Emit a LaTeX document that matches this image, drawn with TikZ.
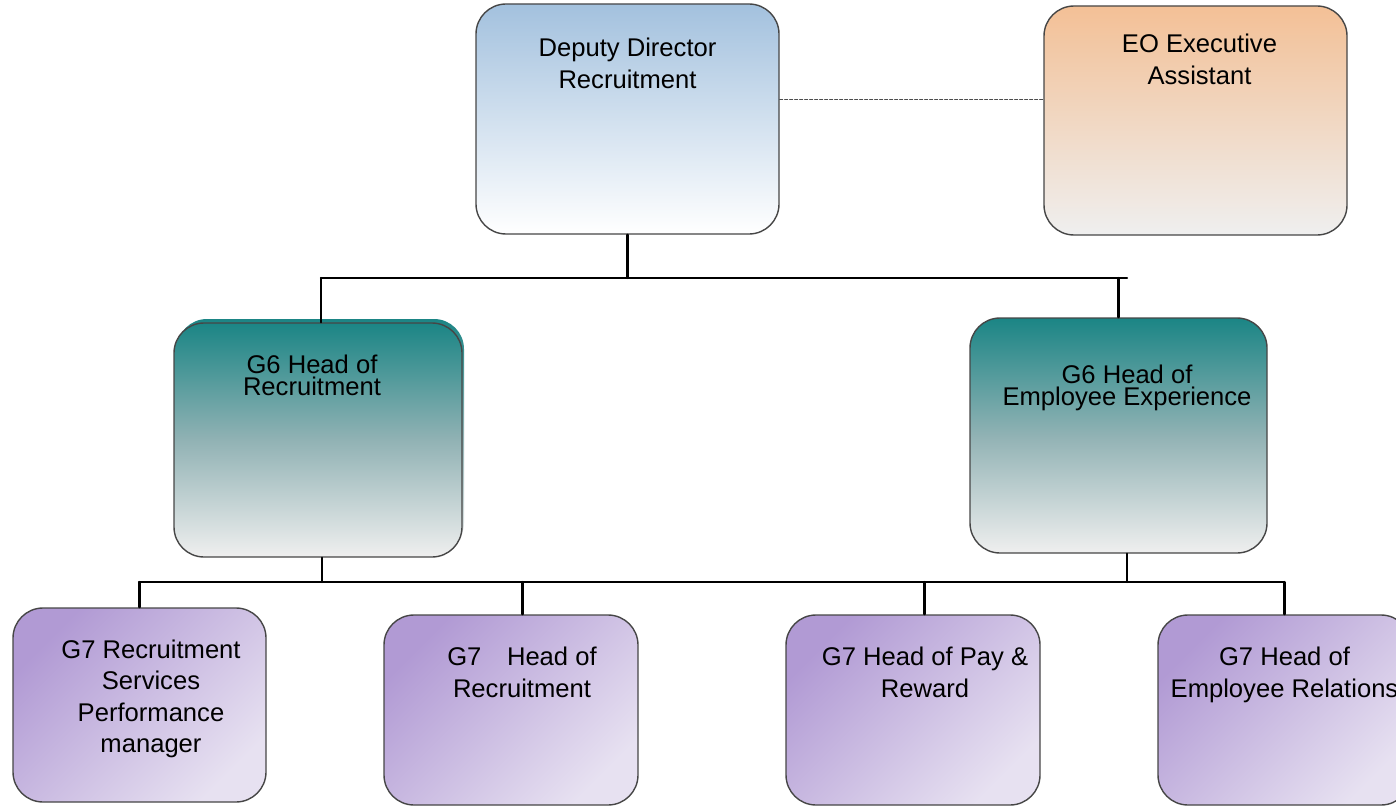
\documentclass[tikz,border=0pt]{standalone}
\usepackage{fontspec}
\setmainfont{Liberation Sans}

\definecolor{boxline}{RGB}{70,70,70}
\definecolor{ddtop}{RGB}{163,193,222}
\definecolor{eotop}{RGB}{243,192,150}
\definecolor{greyend}{RGB}{239,239,239}
\definecolor{g6top}{RGB}{27,133,133}
\definecolor{g6mid}{RGB}{145,178,180}
\definecolor{teamdark}{RGB}{177,154,212}
\definecolor{teamlight}{RGB}{231,225,241}

% box text: width, height, gap above, sideways shift, lines
\newcommand{\orgtext}[5]{\parbox[c][#2][t]{#1}{\centering
  \ifdim#4>0pt \leftskip=2\dimexpr#4\relax plus 1fil\else\rightskip=-2\dimexpr#4\relax plus 1fil\fi
  \vspace*{#3}#5}}

\begin{document}
\begin{tikzpicture}[line cap=round,line join=round,x=0.5pt,y=-0.5pt,
  box/.style={draw=boxline,line width=0.7pt,rounded corners=15pt,inner sep=0pt,font=\fontsize{12.8}{16}\selectfont},
  ddshade/.style={top color=ddtop,bottom color=white},
  eoshade/.style={top color=eotop,bottom color=greyend},
  headshade/.style={top color=g6top,bottom color=greyend,middle color=g6mid},
  teamshade/.style={top color=teamdark,bottom color=teamlight,shading angle=45},
  link/.style={line width=1.1pt,black},
  dashlink/.style={line width=0.5pt,black!70,dash pattern=on 1.5pt off 1pt}]
\useasboundingbox (0,0) rectangle (1396,808);
\clip (0,0) rectangle (1396,808);
% top row
\node[box,ddshade] (dd) at (627.5,119) {\orgtext{151.5pt}{115pt}{16.8pt}{0pt}{Deputy Director\\Recruitment}};
\node[box,eoshade] (eo) at (1195.5,120.5) {\orgtext{151.5pt}{114.5pt}{13.8pt}{2pt}{EO Executive\\Assistant}};
% heads
\path[headshade,rounded corners=15pt] (177,319) rectangle (464,553);
\node[box,headshade,font=\fontsize{12.8}{11}\selectfont] (hrec) at (318,440) {\orgtext{144pt}{117pt}{16pt}{-3pt}{G6 Head of\\Recruitment}};
\node[box,headshade,font=\fontsize{12.8}{10.75}\selectfont] (hexp) at (1118.5,435.5) {\orgtext{148.5pt}{117.5pt}{23.5pt}{4.25pt}{G6 Head of\\Employee Experience}};
% teams
\node[box,teamshade,font=\fontsize{12.8}{15.75}\selectfont] (rsp) at (139.5,705) {\orgtext{126.5pt}{97pt}{15.8pt}{5.75pt}{G7 Recruitment\\Services\\Performance\\manager}};
\node[box,teamshade] (hor) at (511,710) {\orgtext{127pt}{95pt}{15.8pt}{5.5pt}{G7\quad Head of\\Recruitment}};
\node[box,teamshade] (pay) at (913,710) {\orgtext{127pt}{95pt}{15.8pt}{6pt}{G7 Head of Pay \&\\Reward}};
\node[box,teamshade] (er) at (1284.5,710) {\orgtext{126.5pt}{95pt}{15.8pt}{0pt}{G7 Head of\\Employee Relations}};
% connectors
\coordinate (topbus-l) at (321,278);
\coordinate (topbus-r) at (1127,278);
\coordinate (lowbus-l) at (139,582);
\coordinate (lowbus-r) at (1284,582);
\coordinate (dashlevel) at (0,100);
\draw[dashlink] (dd.east |- dashlevel) -- (eo.west |- dashlevel);
\draw[link] (dd.south) -- (dd.south |- topbus-l);
\draw[link] (topbus-l) -- (topbus-r);
\draw[link] (topbus-l) -- (topbus-l |- hrec.north);
\draw[link] (hexp.north |- topbus-r) -- (hexp.north);
\draw[link] ([xshift=2pt]hrec.south) -- ([xshift=2pt]hrec.south |- lowbus-l);
\draw[link] ([xshift=4.25pt]hexp.south) -- ([xshift=4.25pt]hexp.south |- lowbus-l);
\draw[link] (lowbus-l) -- (lowbus-r);
\draw[link] (rsp.north |- lowbus-l) -- (rsp.north);
\foreach \n in {hor,pay}
  \draw[link] ([xshift=5.75pt]\n.north |- lowbus-l) -- ([xshift=5.75pt]\n.north);
\draw[link] (er.north |- lowbus-r) -- (er.north);
\end{tikzpicture}
\end{document}
